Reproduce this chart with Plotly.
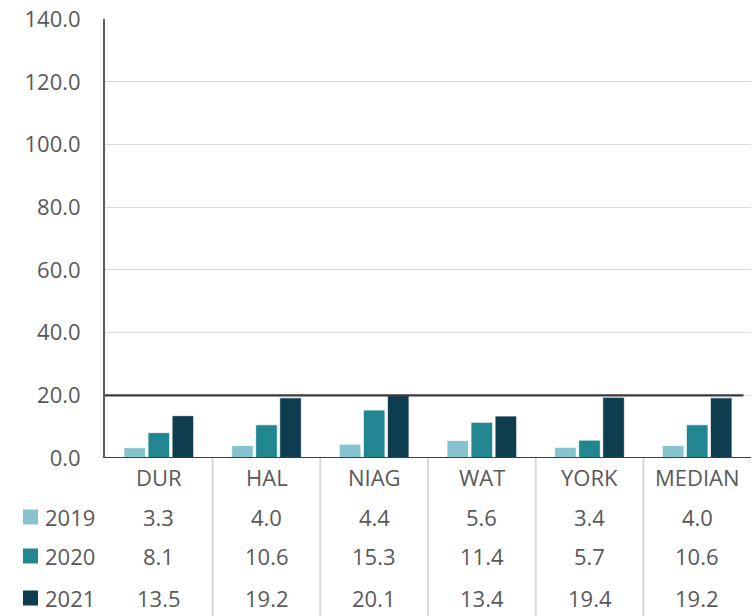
import plotly.graph_objects as go

categories = ["DUR", "HAL", "NIAG", "WAT", "YORK", "MEDIAN"]
series_names = ["2019", "2020", "2021"]
values_2019 = [3.3, 4.0, 4.4, 5.6, 3.4, 4.0]
values_2020 = [8.1, 10.6, 15.3, 11.4, 5.7, 10.6]
values_2021 = [13.5, 19.2, 20.1, 13.4, 19.4, 19.2]
y_ticks = [0, 20, 40, 60, 80, 100, 120, 140]
target_value = 20

colors = ["#86C3CE", "#21868F", "#0F3D50"]
series = [values_2019, values_2020, values_2021]

FONT = "Open Sans"
FS = 22
TXT = "#595959"
W, H = 755, 616
PL, PR, PT, PB = 105, 751, 19, 458          # plot area in window pixels
ML, MR, MT, MB = PL, W - PR, PT, H - PB
plot_h = H - MT - MB
plot_w = W - ML - MR

def py2paper(py):
    return (PB - py) / plot_h

def px2paper(px):
    return (px - PL) / plot_w

fig = go.Figure()
xs = list(range(len(categories)))
for name, vals, col in zip(series_names, series, colors):
    fig.add_trace(go.Bar(
        x=xs, y=vals, name=name,
        marker=dict(color=col, line=dict(color="white", width=0.8)),
        showlegend=False, hoverinfo="y",
    ))

shapes = []
annotations = []

# target line at 20
shapes.append(dict(type="line", xref="x", yref="y", x0=-0.53, x1=5.43,
                   y0=target_value, y1=target_value,
                   line=dict(color="#3A3A3A", width=2.2), layer="above"))

# table separators
for i in range(1, len(categories)):
    shapes.append(dict(type="line", xref="x", yref="paper", x0=i - 0.5, x1=i - 0.5,
                       y0=0, y1=py2paper(H), line=dict(color="#D9D9D9", width=2)))

# category labels
for i, c in enumerate(categories):
    annotations.append(dict(x=i, y=py2paper(477), xref="x", yref="paper", text=c,
                            showarrow=False, font=dict(family=FONT, size=FS, color=TXT),
                            xanchor="center", yanchor="middle"))

row_y = [517, 556, 598]
for name, vals, col, ry in zip(series_names, series, colors, row_y):
    shapes.append(dict(type="rect", xref="paper", yref="paper",
                       x0=px2paper(23), x1=px2paper(38),
                       y0=py2paper(ry + 7.5), y1=py2paper(ry - 7.5),
                       fillcolor=col, line=dict(width=0)))
    annotations.append(dict(x=px2paper(43), y=py2paper(ry), xref="paper", yref="paper",
                            text=name, showarrow=False, xanchor="left", yanchor="middle",
                            font=dict(family=FONT, size=FS, color=TXT)))
    for i, v in enumerate(vals):
        annotations.append(dict(x=i, y=py2paper(ry), xref="x", yref="paper",
                                text=f"{v:.1f}", showarrow=False,
                                xanchor="center", yanchor="middle",
                                font=dict(family=FONT, size=FS, color=TXT)))

# bottom axis line
shapes.append(dict(type="line", xref="paper", yref="y", x0=0, x1=1, y0=0, y1=0,
                   line=dict(color="#404040", width=2), layer="above"))

fig.update_layout(
    width=W, height=H,
    margin=dict(l=ML, r=MR, t=MT, b=MB, autoexpand=False),
    plot_bgcolor="white", paper_bgcolor="white",
    barmode="group", bargap=0.33, bargroupgap=0.1,
    shapes=shapes, annotations=annotations,
    xaxis=dict(range=[-0.5, len(categories) - 0.5], showticklabels=False,
               showgrid=False, zeroline=False, showline=False, fixedrange=True),
    yaxis=dict(range=[0, 140.05], tickvals=y_ticks, tickformat=".1f",
               showgrid=True, gridcolor="#D9D9D9", gridwidth=1,
               zeroline=False, showline=True, linecolor="#595959", linewidth=2,
               ticks="", ticklabelstandoff=18, ticklabeloverflow="allow",
               tickfont=dict(family=FONT, size=FS, color=TXT)),
    font=dict(family=FONT, color=TXT),
)

fig.write_html(
    "out.html",
    config={"displayModeBar": False},
    post_script="document.body.style.margin='0';document.body.style.overflow='hidden';",
)
